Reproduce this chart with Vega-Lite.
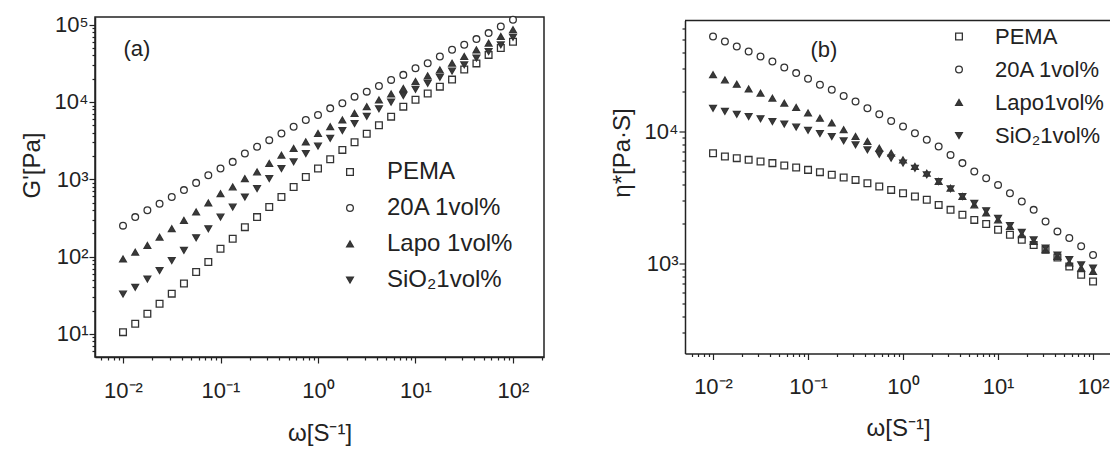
{
  "$schema": "https://vega.github.io/schema/vega-lite/v6.json",
  "padding": {"left": 19, "top": 12, "right": 0, "bottom": 0},
  "bounds": "flush",
  "spacing": 141,
  "center": true,
  "resolve": {"scale": {"shape": "independent", "fill": "independent", "stroke": "independent", "x": "independent", "y": "independent"}, "legend": {"shape": "independent", "fill": "independent", "stroke": "independent"}},
  "config": {
    "font": "Liberation Sans",
    "view": {"stroke": "#222", "strokeWidth": 1.5},
    "axis": {"grid": false, "domainColor": "#222", "domainWidth": 1.5, "tickColor": "#222", "tickWidth": 1.2, "labelColor": "#222", "titleColor": "#222", "labelFontSize": 22, "titleFontSize": 24, "titleFontWeight": "normal", "labelOverlap": false, "labelFlush": false, "labelBound": false}
  },
  "datasets": {
    "a": [
      {"s":"PEMA","w":0.01,"v":10.5},{"s":"PEMA","w":0.01334,"v":13.5},{"s":"PEMA","w":0.01778,"v":18.2},{"s":"PEMA","w":0.02371,"v":24.5},{"s":"PEMA","w":0.03162,"v":33.1},{"s":"PEMA","w":0.04217,"v":44.7},{"s":"PEMA","w":0.05623,"v":63.1},{"s":"PEMA","w":0.07499,"v":85.1},{"s":"PEMA","w":0.1,"v":126},{"s":"PEMA","w":0.1334,"v":170},{"s":"PEMA","w":0.1778,"v":240},{"s":"PEMA","w":0.2371,"v":324},{"s":"PEMA","w":0.3162,"v":437},{"s":"PEMA","w":0.4217,"v":589},{"s":"PEMA","w":0.5623,"v":794},{"s":"PEMA","w":0.7499,"v":1072},{"s":"PEMA","w":1,"v":1380},{"s":"PEMA","w":1.334,"v":1820},{"s":"PEMA","w":1.778,"v":2400},{"s":"PEMA","w":2.371,"v":3020},{"s":"PEMA","w":3.162,"v":3890},{"s":"PEMA","w":4.217,"v":5010},{"s":"PEMA","w":5.623,"v":6460},{"s":"PEMA","w":7.499,"v":8710},{"s":"PEMA","w":10,"v":10700},{"s":"PEMA","w":13.34,"v":12900},{"s":"PEMA","w":17.78,"v":15800},{"s":"PEMA","w":23.71,"v":19500},{"s":"PEMA","w":31.62,"v":26300},{"s":"PEMA","w":42.17,"v":31600},{"s":"PEMA","w":56.23,"v":40700},{"s":"PEMA","w":74.99,"v":50100},{"s":"PEMA","w":100,"v":60300},
      {"s":"20A 1vol%","w":0.01,"v":251},{"s":"20A 1vol%","w":0.01334,"v":324},{"s":"20A 1vol%","w":0.01778,"v":398},{"s":"20A 1vol%","w":0.02371,"v":483},{"s":"20A 1vol%","w":0.03162,"v":589},{"s":"20A 1vol%","w":0.04217,"v":724},{"s":"20A 1vol%","w":0.05623,"v":898},{"s":"20A 1vol%","w":0.07499,"v":1127},{"s":"20A 1vol%","w":0.1,"v":1377},{"s":"20A 1vol%","w":0.1334,"v":1679},{"s":"20A 1vol%","w":0.1778,"v":2154},{"s":"20A 1vol%","w":0.2371,"v":2630},{"s":"20A 1vol%","w":0.3162,"v":3207},{"s":"20A 1vol%","w":0.4217,"v":3917},{"s":"20A 1vol%","w":0.5623,"v":4786},{"s":"20A 1vol%","w":0.7499,"v":5840},{"s":"20A 1vol%","w":1,"v":6780},{"s":"20A 1vol%","w":1.334,"v":8280},{"s":"20A 1vol%","w":1.778,"v":9620},{"s":"20A 1vol%","w":2.371,"v":11730},{"s":"20A 1vol%","w":3.162,"v":13620},{"s":"20A 1vol%","w":4.217,"v":16140},{"s":"20A 1vol%","w":5.623,"v":19310},{"s":"20A 1vol%","w":7.499,"v":22440},{"s":"20A 1vol%","w":10,"v":27370},{"s":"20A 1vol%","w":13.34,"v":31780},{"s":"20A 1vol%","w":17.78,"v":38810},{"s":"20A 1vol%","w":23.71,"v":47340},{"s":"20A 1vol%","w":31.62,"v":54990},{"s":"20A 1vol%","w":42.17,"v":65150},{"s":"20A 1vol%","w":56.23,"v":77900},{"s":"20A 1vol%","w":74.99,"v":95100},{"s":"20A 1vol%","w":100,"v":116000},
      {"s":"Lapo 1vol%","w":0.01,"v":93},{"s":"Lapo 1vol%","w":0.01334,"v":114},{"s":"Lapo 1vol%","w":0.01778,"v":139},{"s":"Lapo 1vol%","w":0.02371,"v":178},{"s":"Lapo 1vol%","w":0.03162,"v":229},{"s":"Lapo 1vol%","w":0.04217,"v":294},{"s":"Lapo 1vol%","w":0.05623,"v":377},{"s":"Lapo 1vol%","w":0.07499,"v":493},{"s":"Lapo 1vol%","w":0.1,"v":652},{"s":"Lapo 1vol%","w":0.1334,"v":795},{"s":"Lapo 1vol%","w":0.1778,"v":1020},{"s":"Lapo 1vol%","w":0.2371,"v":1245},{"s":"Lapo 1vol%","w":0.3162,"v":1597},{"s":"Lapo 1vol%","w":0.4217,"v":2050},{"s":"Lapo 1vol%","w":0.5623,"v":2500},{"s":"Lapo 1vol%","w":0.7499,"v":3050},{"s":"Lapo 1vol%","w":1,"v":3917},{"s":"Lapo 1vol%","w":1.334,"v":4786},{"s":"Lapo 1vol%","w":1.778,"v":5840},{"s":"Lapo 1vol%","w":2.371,"v":7130},{"s":"Lapo 1vol%","w":3.162,"v":8690},{"s":"Lapo 1vol%","w":4.217,"v":10600},{"s":"Lapo 1vol%","w":5.623,"v":12700},{"s":"Lapo 1vol%","w":7.499,"v":15000},{"s":"Lapo 1vol%","w":10,"v":18400},{"s":"Lapo 1vol%","w":13.34,"v":21800},{"s":"Lapo 1vol%","w":17.78,"v":26000},{"s":"Lapo 1vol%","w":23.71,"v":31800},{"s":"Lapo 1vol%","w":31.62,"v":38800},{"s":"Lapo 1vol%","w":42.17,"v":47300},{"s":"Lapo 1vol%","w":56.23,"v":57800},{"s":"Lapo 1vol%","w":74.99,"v":70500},{"s":"Lapo 1vol%","w":100,"v":86000},
      {"s":"SiO₂1vol%","w":0.01,"v":32.7},{"s":"SiO₂1vol%","w":0.01334,"v":40.0},{"s":"SiO₂1vol%","w":0.01778,"v":51.3},{"s":"SiO₂1vol%","w":0.02371,"v":65.8},{"s":"SiO₂1vol%","w":0.03162,"v":88.7},{"s":"SiO₂1vol%","w":0.04217,"v":120},{"s":"SiO₂1vol%","w":0.05623,"v":175},{"s":"SiO₂1vol%","w":0.07499,"v":229},{"s":"SiO₂1vol%","w":0.1,"v":324},{"s":"SiO₂1vol%","w":0.1334,"v":437},{"s":"SiO₂1vol%","w":0.1778,"v":590},{"s":"SiO₂1vol%","w":0.2371,"v":757},{"s":"SiO₂1vol%","w":0.3162,"v":1020},{"s":"SiO₂1vol%","w":0.4217,"v":1377},{"s":"SiO₂1vol%","w":0.5623,"v":1680},{"s":"SiO₂1vol%","w":0.7499,"v":2150},{"s":"SiO₂1vol%","w":1,"v":2690},{"s":"SiO₂1vol%","w":1.334,"v":3390},{"s":"SiO₂1vol%","w":1.778,"v":4270},{"s":"SiO₂1vol%","w":2.371,"v":5260},{"s":"SiO₂1vol%","w":3.162,"v":6550},{"s":"SiO₂1vol%","w":4.217,"v":8180},{"s":"SiO₂1vol%","w":5.623,"v":9950},{"s":"SiO₂1vol%","w":7.499,"v":12100},{"s":"SiO₂1vol%","w":10,"v":14600},{"s":"SiO₂1vol%","w":13.34,"v":17500},{"s":"SiO₂1vol%","w":17.78,"v":20900},{"s":"SiO₂1vol%","w":23.71,"v":25100},{"s":"SiO₂1vol%","w":31.62,"v":30300},{"s":"SiO₂1vol%","w":42.17,"v":37100},{"s":"SiO₂1vol%","w":56.23,"v":45000},{"s":"SiO₂1vol%","w":74.99,"v":55000},{"s":"SiO₂1vol%","w":100,"v":69000}
    ],
    "b": [
      {"s":"PEMA","w":0.01,"v":6850},{"s":"PEMA","w":0.01334,"v":6470},{"s":"PEMA","w":0.01778,"v":6280},{"s":"PEMA","w":0.02371,"v":6100},{"s":"PEMA","w":0.03162,"v":5930},{"s":"PEMA","w":0.04217,"v":5760},{"s":"PEMA","w":0.05623,"v":5530},{"s":"PEMA","w":0.07499,"v":5340},{"s":"PEMA","w":0.1,"v":5120},{"s":"PEMA","w":0.1334,"v":4920},{"s":"PEMA","w":0.1778,"v":4700},{"s":"PEMA","w":0.2371,"v":4480},{"s":"PEMA","w":0.3162,"v":4300},{"s":"PEMA","w":0.4217,"v":4060},{"s":"PEMA","w":0.5623,"v":3830},{"s":"PEMA","w":0.7499,"v":3610},{"s":"PEMA","w":1,"v":3410},{"s":"PEMA","w":1.334,"v":3220},{"s":"PEMA","w":1.778,"v":3040},{"s":"PEMA","w":2.371,"v":2780},{"s":"PEMA","w":3.162,"v":2550},{"s":"PEMA","w":4.217,"v":2340},{"s":"PEMA","w":5.623,"v":2140},{"s":"PEMA","w":7.499,"v":1990},{"s":"PEMA","w":10,"v":1800},{"s":"PEMA","w":13.34,"v":1650},{"s":"PEMA","w":17.78,"v":1510},{"s":"PEMA","w":23.71,"v":1380},{"s":"PEMA","w":31.62,"v":1270},{"s":"PEMA","w":42.17,"v":1110},{"s":"PEMA","w":56.23,"v":948},{"s":"PEMA","w":74.99,"v":820},{"s":"PEMA","w":100,"v":731},
      {"s":"20A 1vol%","w":0.01,"v":52500},{"s":"20A 1vol%","w":0.01334,"v":48100},{"s":"20A 1vol%","w":0.01778,"v":44100},{"s":"20A 1vol%","w":0.02371,"v":40400},{"s":"20A 1vol%","w":0.03162,"v":37000},{"s":"20A 1vol%","w":0.04217,"v":33900},{"s":"20A 1vol%","w":0.05623,"v":30500},{"s":"20A 1vol%","w":0.07499,"v":27700},{"s":"20A 1vol%","w":0.1,"v":25100},{"s":"20A 1vol%","w":0.1334,"v":22600},{"s":"20A 1vol%","w":0.1778,"v":20700},{"s":"20A 1vol%","w":0.2371,"v":18600},{"s":"20A 1vol%","w":0.3162,"v":16900},{"s":"20A 1vol%","w":0.4217,"v":15000},{"s":"20A 1vol%","w":0.5623,"v":13500},{"s":"20A 1vol%","w":0.7499,"v":12000},{"s":"20A 1vol%","w":1,"v":10900},{"s":"20A 1vol%","w":1.334,"v":9710},{"s":"20A 1vol%","w":1.778,"v":8650},{"s":"20A 1vol%","w":2.371,"v":7700},{"s":"20A 1vol%","w":3.162,"v":6650},{"s":"20A 1vol%","w":4.217,"v":5760},{"s":"20A 1vol%","w":5.623,"v":4980},{"s":"20A 1vol%","w":7.499,"v":4430},{"s":"20A 1vol%","w":10,"v":3940},{"s":"20A 1vol%","w":13.34,"v":3410},{"s":"20A 1vol%","w":17.78,"v":2950},{"s":"20A 1vol%","w":23.71,"v":2550},{"s":"20A 1vol%","w":31.62,"v":2080},{"s":"20A 1vol%","w":42.17,"v":1750},{"s":"20A 1vol%","w":56.23,"v":1560},{"s":"20A 1vol%","w":74.99,"v":1350},{"s":"20A 1vol%","w":100,"v":1160},
      {"s":"Lapo1vol%","w":0.01,"v":26900},{"s":"Lapo1vol%","w":0.01334,"v":24600},{"s":"Lapo1vol%","w":0.01778,"v":22800},{"s":"Lapo1vol%","w":0.02371,"v":21000},{"s":"Lapo1vol%","w":0.03162,"v":19500},{"s":"Lapo1vol%","w":0.04217,"v":17900},{"s":"Lapo1vol%","w":0.05623,"v":16400},{"s":"Lapo1vol%","w":0.07499,"v":15200},{"s":"Lapo1vol%","w":0.1,"v":13800},{"s":"Lapo1vol%","w":0.1334,"v":12600},{"s":"Lapo1vol%","w":0.1778,"v":11600},{"s":"Lapo1vol%","w":0.2371,"v":10300},{"s":"Lapo1vol%","w":0.3162,"v":9160},{"s":"Lapo1vol%","w":0.4217,"v":8400},{"s":"Lapo1vol%","w":0.5623,"v":7480},{"s":"Lapo1vol%","w":0.7499,"v":6850},{"s":"Lapo1vol%","w":1,"v":6100},{"s":"Lapo1vol%","w":1.334,"v":5430},{"s":"Lapo1vol%","w":1.778,"v":4830},{"s":"Lapo1vol%","w":2.371,"v":4180},{"s":"Lapo1vol%","w":3.162,"v":3720},{"s":"Lapo1vol%","w":4.217,"v":3220},{"s":"Lapo1vol%","w":5.623,"v":2780},{"s":"Lapo1vol%","w":7.499,"v":2410},{"s":"Lapo1vol%","w":10,"v":2140},{"s":"Lapo1vol%","w":13.34,"v":1910},{"s":"Lapo1vol%","w":17.78,"v":1650},{"s":"Lapo1vol%","w":23.71,"v":1470},{"s":"Lapo1vol%","w":31.62,"v":1270},{"s":"Lapo1vol%","w":42.17,"v":1130},{"s":"Lapo1vol%","w":56.23,"v":1010},{"s":"Lapo1vol%","w":74.99,"v":922},{"s":"Lapo1vol%","w":100,"v":869},
      {"s":"SiO₂1vol%","w":0.01,"v":15000},{"s":"SiO₂1vol%","w":0.01334,"v":14200},{"s":"SiO₂1vol%","w":0.01778,"v":13500},{"s":"SiO₂1vol%","w":0.02371,"v":13000},{"s":"SiO₂1vol%","w":0.03162,"v":12500},{"s":"SiO₂1vol%","w":0.04217,"v":11900},{"s":"SiO₂1vol%","w":0.05623,"v":11400},{"s":"SiO₂1vol%","w":0.07499,"v":10800},{"s":"SiO₂1vol%","w":0.1,"v":10200},{"s":"SiO₂1vol%","w":0.1334,"v":9660},{"s":"SiO₂1vol%","w":0.1778,"v":9160},{"s":"SiO₂1vol%","w":0.2371,"v":8500},{"s":"SiO₂1vol%","w":0.3162,"v":7930},{"s":"SiO₂1vol%","w":0.4217,"v":7260},{"s":"SiO₂1vol%","w":0.5623,"v":6730},{"s":"SiO₂1vol%","w":0.7499,"v":6280},{"s":"SiO₂1vol%","w":1,"v":5760},{"s":"SiO₂1vol%","w":1.334,"v":5270},{"s":"SiO₂1vol%","w":1.778,"v":4700},{"s":"SiO₂1vol%","w":2.371,"v":4180},{"s":"SiO₂1vol%","w":3.162,"v":3680},{"s":"SiO₂1vol%","w":4.217,"v":3220},{"s":"SiO₂1vol%","w":5.623,"v":2860},{"s":"SiO₂1vol%","w":7.499,"v":2510},{"s":"SiO₂1vol%","w":10,"v":2200},{"s":"SiO₂1vol%","w":13.34,"v":1940},{"s":"SiO₂1vol%","w":17.78,"v":1720},{"s":"SiO₂1vol%","w":23.71,"v":1510},{"s":"SiO₂1vol%","w":31.62,"v":1310},{"s":"SiO₂1vol%","w":42.17,"v":1160},{"s":"SiO₂1vol%","w":56.23,"v":1070},{"s":"SiO₂1vol%","w":74.99,"v":977},{"s":"SiO₂1vol%","w":100,"v":922}
    ]
  },
  "hconcat": [
    {
      "width": 449,
      "height": 340,
      "layer": [
        {
          "data": {"name": "a"},
          "mark": {"type": "point", "filled": true, "strokeWidth": 1.3, "size": 45, "opacity": 1},
          "encoding": {
            "x": {"field": "w", "type": "quantitative",
              "scale": {"type": "log", "domain": [0.00516, 208], "nice": false},
              "axis": {"title": "ω[S⁻¹]", "values": [0.006,0.007,0.008,0.009,0.01,0.02,0.03,0.04,0.05,0.06,0.07,0.08,0.09,0.1,0.2,0.3,0.4,0.5,0.6,0.7,0.8,0.9,1,2,3,4,5,6,7,8,9,10,20,30,40,50,60,70,80,90,100,200],
                "labelExpr": "datum.value==0.01?'10⁻²':datum.value==0.1?'10⁻¹':datum.value==1?'10⁰':datum.value==10?'10¹':datum.value==100?'10²':''",
                "tickSize": {"condition": {"test": "abs(log(datum.value)/LN10 - round(log(datum.value)/LN10)) < 0.001", "value": 6}, "value": 3},
                "labelPadding": 17, "titlePadding": 20}},
            "y": {"field": "v", "type": "quantitative",
              "scale": {"type": "log", "domain": [5.01, 125900], "nice": false},
              "axis": {"title": "G'[Pa]", "values": [6,7,8,9,10,20,30,40,50,60,70,80,90,100,200,300,400,500,600,700,800,900,1000,2000,3000,4000,5000,6000,7000,8000,9000,10000,20000,30000,40000,50000,60000,70000,80000,90000,100000],
                "labelExpr": "datum.value==10?'10¹':datum.value==100?'10²':datum.value==1000?'10³':datum.value==10000?'10⁴':datum.value==100000?'10⁵':''",
                "tickSize": {"condition": {"test": "abs(log(datum.value)/LN10 - round(log(datum.value)/LN10)) < 0.001", "value": 6}, "value": 3},
                "labelPadding": 1, "titlePadding": 10, "titleY": 148}},
            "shape": {"field": "s", "type": "nominal",
              "scale": {"domain": ["PEMA","20A 1vol%","Lapo 1vol%","SiO₂1vol%"], "range": ["square","circle","triangle-up","triangle-down"]},
              "legend": {"title": null, "orient": "none", "legendX": 243, "legendY": 143, "padding": 0, "rowPadding": 12, "labelOffset": 25, "labelFontSize": 24, "labelColor": "#222", "symbolSize": 45, "symbolStrokeWidth": 1.3, "labelLimit": 300}},
            "fill": {"field": "s", "type": "nominal",
              "scale": {"domain": ["PEMA","20A 1vol%","Lapo 1vol%","SiO₂1vol%"], "range": ["white","white","#3a3a3a","#3a3a3a"]}},
            "stroke": {"field": "s", "type": "nominal",
              "scale": {"domain": ["PEMA","20A 1vol%","Lapo 1vol%","SiO₂1vol%"], "range": ["#333","#333","#333","#333"]}}
          }
        },
        {
          "data": {"values": [{"t": "(a)", "w": 0.0139, "v": 48600}]},
          "mark": {"type": "text", "fontSize": 22, "color": "#222", "align": "center", "baseline": "middle"},
          "encoding": {
            "x": {"field": "w", "type": "quantitative"},
            "y": {"field": "v", "type": "quantitative"},
            "text": {"field": "t"}
          }
        }
      ]
    },
    {
      "width": 426,
      "height": 333,
      "view": {"stroke": null},
      "layer": [
        {
          "data": {"values": [{}]},
          "mark": {"type": "rule", "stroke": "#222", "strokeWidth": 1.5},
          "encoding": {"y": {"datum": 69340}}
        },
        {
          "data": {"name": "b"},
          "mark": {"type": "point", "filled": true, "strokeWidth": 1.3, "size": 45, "opacity": 1},
          "encoding": {
            "x": {"field": "w", "type": "quantitative",
              "scale": {"type": "log", "domain": [0.00507, 154.5], "nice": false},
              "axis": {"title": "ω[S⁻¹]", "values": [0.006,0.007,0.008,0.009,0.01,0.02,0.03,0.04,0.05,0.06,0.07,0.08,0.09,0.1,0.2,0.3,0.4,0.5,0.6,0.7,0.8,0.9,1,2,3,4,5,6,7,8,9,10,20,30,40,50,60,70,80,90,100],
                "labelExpr": "datum.value==0.01?'10⁻²':datum.value==0.1?'10⁻¹':datum.value==1?'10⁰':datum.value==10?'10¹':datum.value==100?'10²':''",
                "tickSize": {"condition": {"test": "abs(log(datum.value)/LN10 - round(log(datum.value)/LN10)) < 0.001", "value": 6}, "value": 3},
                "labelPadding": 17, "titlePadding": 19}},
            "y": {"field": "v", "type": "quantitative",
              "scale": {"type": "log", "domain": [208, 69340], "nice": false},
              "axis": {"title": "η*[Pa·S]", "values": [300,400,500,600,700,800,900,1000,2000,3000,4000,5000,6000,7000,8000,9000,10000,20000,30000,40000,50000,60000],
                "labelExpr": "datum.value==1000?'10³':datum.value==10000?'10⁴':''",
                "tickSize": {"condition": {"test": "abs(log(datum.value)/LN10 - round(log(datum.value)/LN10)) < 0.001", "value": 6}, "value": 3},
                "labelPadding": 1, "titlePadding": 10, "titleY": 132}},
            "shape": {"field": "s", "type": "nominal",
              "scale": {"domain": ["PEMA","20A 1vol%","Lapo1vol%","SiO₂1vol%"], "range": ["square","circle","triangle-up","triangle-down"]},
              "legend": {"title": null, "orient": "none", "legendX": 263, "legendY": 5, "padding": 0, "rowPadding": 11, "labelOffset": 25, "labelFontSize": 22, "labelColor": "#222", "symbolSize": 45, "symbolStrokeWidth": 1.3, "labelLimit": 300}},
            "fill": {"field": "s", "type": "nominal",
              "scale": {"domain": ["PEMA","20A 1vol%","Lapo1vol%","SiO₂1vol%"], "range": ["white","white","#3a3a3a","#3a3a3a"]}},
            "stroke": {"field": "s", "type": "nominal",
              "scale": {"domain": ["PEMA","20A 1vol%","Lapo1vol%","SiO₂1vol%"], "range": ["#333","#333","#333","#333"]}}
          }
        },
        {
          "data": {"values": [{"t": "(b)", "w": 0.147, "v": 41800}]},
          "mark": {"type": "text", "fontSize": 22, "color": "#222", "align": "center", "baseline": "middle"},
          "encoding": {
            "x": {"field": "w", "type": "quantitative"},
            "y": {"field": "v", "type": "quantitative"},
            "text": {"field": "t"}
          }
        }
      ]
    }
  ]
}
